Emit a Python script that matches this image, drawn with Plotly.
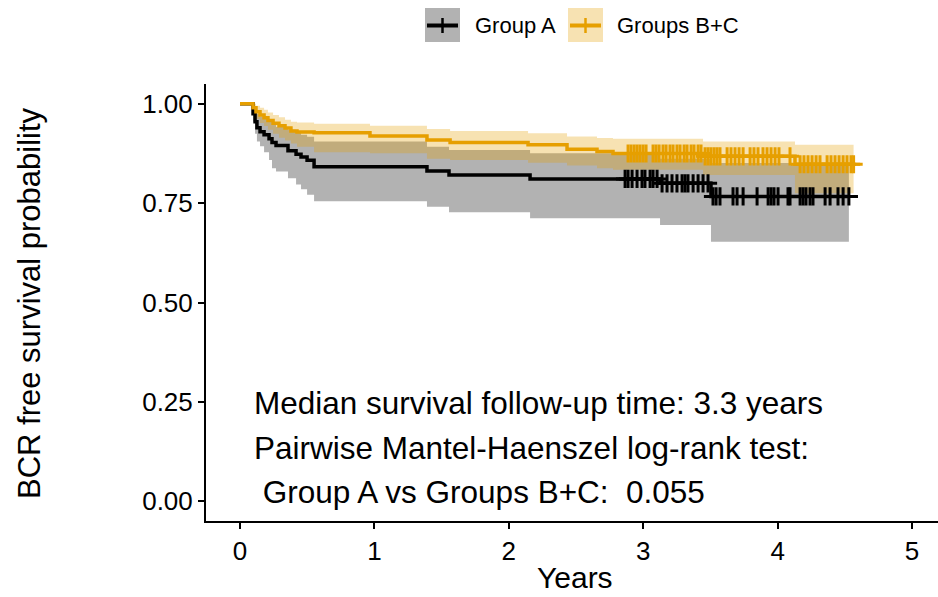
import numpy as np
import plotly.graph_objects as go

# ---------------- data (years / survival probability) ----------------
groups = ["Group A", "Groups B+C"]

a_times = [0, 0.097, 0.112, 0.126, 0.149, 0.179, 0.216, 0.238, 0.268, 0.357, 0.417,
           0.454, 0.499, 0.551, 1.391, 1.555, 2.158, 3.125, 3.504]
a_surv = [1.0, 0.975, 0.955, 0.94, 0.93, 0.922, 0.912, 0.903, 0.895, 0.882, 0.873,
          0.866, 0.858, 0.842, 0.831, 0.821, 0.811, 0.80, 0.767]
a_lower = [1.0, 0.955, 0.925, 0.905, 0.893, 0.878, 0.859, 0.838, 0.83, 0.813, 0.797,
           0.785, 0.771, 0.755, 0.741, 0.727, 0.712, 0.695, 0.653]
a_upper = [1.0, 0.995, 0.985, 0.975, 0.968, 0.962, 0.955, 0.948, 0.942, 0.935, 0.928,
           0.922, 0.917, 0.905, 0.892, 0.884, 0.876, 0.862, 0.851]
a_end = 4.53
a_censor = [2.865, 2.887, 2.917, 2.954, 2.991, 3.013, 3.051, 3.073, 3.103,
            3.140, 3.177, 3.214, 3.251, 3.289, 3.311, 3.333, 3.371, 3.408, 3.445, 3.482,
            3.519, 3.542, 3.571, 3.668, 3.698, 3.743, 3.847, 3.929, 3.951, 3.973, 4.003,
            4.077, 4.092, 4.167, 4.189, 4.211, 4.241, 4.263, 4.353, 4.390, 4.449, 4.487, 4.53]

b_times = [0, 0.097, 0.119, 0.149, 0.179, 0.208, 0.246, 0.290, 0.335, 0.379, 0.424,
           0.551, 0.967, 1.391, 1.563, 2.143, 2.433, 2.656, 2.775, 3.445, 4.129]
b_surv = [1.0, 0.99, 0.98, 0.972, 0.965, 0.958, 0.951, 0.945, 0.939, 0.932, 0.929,
          0.927, 0.919, 0.909, 0.903, 0.897, 0.886, 0.880, 0.875, 0.868, 0.848]
b_upper = [1.0, 1.0, 0.995, 0.99, 0.985, 0.978, 0.972, 0.966, 0.96, 0.955, 0.953,
           0.95, 0.945, 0.937, 0.932, 0.926, 0.918, 0.914, 0.912, 0.905, 0.897]
b_lower = [1.0, 0.975, 0.962, 0.952, 0.944, 0.935, 0.925, 0.915, 0.908, 0.9, 0.892,
           0.878, 0.876, 0.862, 0.859, 0.852, 0.845, 0.838, 0.834, 0.821, 0.775]
b_end = 4.565
b_censor = [2.887, 2.909, 2.932, 2.954, 2.976, 2.999, 3.021,
            3.073, 3.095, 3.118, 3.147, 3.170, 3.199, 3.222, 3.251, 3.274, 3.304, 3.326,
            3.356, 3.378, 3.408, 3.430,
            3.460, 3.482, 3.504, 3.527, 3.549, 3.571, 3.624, 3.653, 3.683, 3.713, 3.743,
            3.795, 3.824, 3.854, 3.891, 3.921, 3.951, 3.981, 4.010, 4.092,
            4.167, 4.196, 4.226, 4.256, 4.286, 4.315, 4.368, 4.397, 4.427, 4.457, 4.487,
            4.516, 4.546, 4.565]

x_ticks = [0, 1, 2, 3, 4, 5]
y_ticks = [0, 0.25, 0.5, 0.75, 1.0]
y_ticktext = ["0.00", "0.25", "0.50", "0.75", "1.00"]

ann_lines = ["Median survival follow-up time: 3.3 years",
             "Pairwise Mantel-Haenszel log-rank test:",
             "\u00a0Group A vs Groups B+C:\u00a0\u00a00.055"]

# ---------------- style ----------------
FONT = "Liberation Sans, Arial, Helvetica, sans-serif"
W, H = 938, 597
ML, MR, MT, MB = 206, 0, 84, 76
col_a, col_b = "#000000", "#E69F00"
fill_a, fill_b = "rgba(0,0,0,0.3)", "rgba(230,159,0,0.3)"


def pxx(p):
    return (p - ML) / (W - ML - MR)


def pxy(p):
    return (H - MB - p) / (H - MT - MB)


def surv_at(times, surv, t):
    i = np.searchsorted(np.asarray(times), t, side="right") - 1
    return surv[i]


fig = go.Figure()


def add_band(times, lo, up, end, fc):
    x = list(times) + [end]
    fig.add_trace(go.Scatter(x=x, y=list(lo) + [lo[-1]], mode="lines",
                             line=dict(width=0, shape="hv"), showlegend=False,
                             hoverinfo="skip"))
    fig.add_trace(go.Scatter(x=x, y=list(up) + [up[-1]], mode="lines",
                             line=dict(width=0, shape="hv"), fill="tonexty",
                             fillcolor=fc, showlegend=False, hoverinfo="skip"))


def add_curve(times, surv, end, cens, color, name):
    fig.add_trace(go.Scatter(x=list(times) + [end], y=list(surv) + [surv[-1]],
                             mode="lines", line=dict(color=color, width=3.5, shape="hv"),
                             name=name, showlegend=False))
    fig.add_trace(go.Scatter(x=cens, y=[surv_at(times, surv, t) for t in cens],
                             mode="markers",
                             marker=dict(symbol="cross-thin", size=13,
                                         line=dict(color=color, width=3)),
                             showlegend=False, hoverinfo="skip"))


add_band(a_times, a_lower, a_upper, a_end, fill_a)
add_band(b_times, b_lower, b_upper, b_end, fill_b)
add_curve(a_times, a_surv, a_end, a_censor, col_a, groups[0])
add_curve(b_times, b_surv, b_end, b_censor, col_b, groups[1])

axis_common = dict(showgrid=False, zeroline=False, showline=True, linecolor="black",
                   linewidth=2, ticks="outside", ticklen=6, tickwidth=2,
                   tickcolor="black", tickfont=dict(family=FONT, size=26, color="black"))

fig.update_xaxes(range=[-0.253, 5.193], tickvals=x_ticks, **axis_common)
fig.update_yaxes(range=[-0.05, 1.05], tickvals=y_ticks, ticktext=y_ticktext, **axis_common)

annotations = []
for txt, yc in zip(ann_lines, [403, 448, 492]):
    annotations.append(dict(text=txt, xref="paper", yref="paper", x=pxx(252), y=pxy(yc),
                            xanchor="left", yanchor="middle", showarrow=False,
                            font=dict(family=FONT, size=31.5, color="black")))

# axis titles
annotations.append(dict(text="BCR free survival probability", xref="paper", yref="paper",
                        x=pxx(29), y=pxy(303), textangle=-90, xanchor="center",
                        yanchor="middle", showarrow=False,
                        font=dict(family=FONT, size=31, color="black")))
annotations.append(dict(text="Years", xref="paper", yref="paper", x=pxx(575), y=pxy(577),
                        xanchor="center", yanchor="middle", showarrow=False,
                        font=dict(family=FONT, size=30, color="black")))

# legend (manual)
shapes = []
leg = [(425, fill_a, col_a, 473, groups[0]), (568, fill_b, col_b, 615, groups[1])]
for x0, fc, lc, tx, name in leg:
    shapes.append(dict(type="rect", xref="paper", yref="paper", x0=pxx(x0), x1=pxx(x0 + 35),
                       y0=pxy(42), y1=pxy(8), fillcolor=fc, line=dict(width=0), layer="above"))
    shapes.append(dict(type="line", xref="paper", yref="paper", x0=pxx(x0 + 2), x1=pxx(x0 + 33),
                       y0=pxy(25.5), y1=pxy(25.5), line=dict(color=lc, width=4), layer="above"))
    shapes.append(dict(type="line", xref="paper", yref="paper", x0=pxx(x0 + 17.5),
                       x1=pxx(x0 + 17.5), y0=pxy(18), y1=pxy(33),
                       line=dict(color=lc, width=2.5), layer="above"))
    annotations.append(dict(text=name, xref="paper", yref="paper", x=pxx(tx), y=pxy(25.5),
                            xanchor="left", yanchor="middle", showarrow=False,
                            font=dict(family=FONT, size=22, color="black")))

fig.update_layout(width=W, height=H, margin=dict(l=ML, r=MR, t=MT, b=MB, pad=0),
                  plot_bgcolor="white", paper_bgcolor="white", showlegend=False,
                  annotations=annotations, shapes=shapes,
                  font=dict(family=FONT, color="black"))

fig.write_html("out.html")
